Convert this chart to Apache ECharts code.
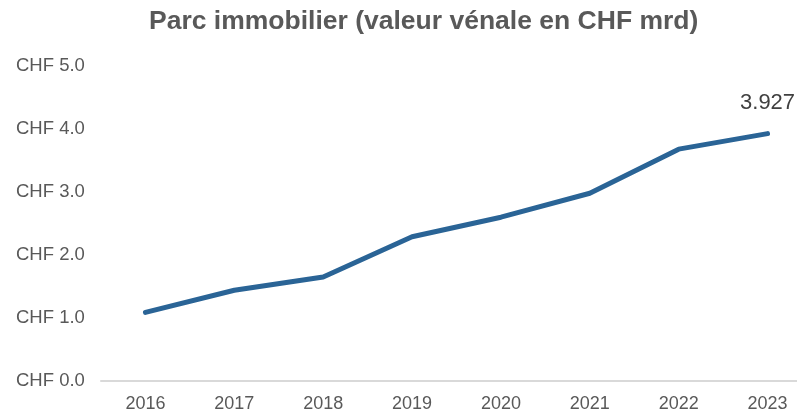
<!DOCTYPE html>
<html>
<head>
<meta charset="utf-8">
<script src="https://cdn.jsdelivr.net/npm/echarts@6/dist/echarts.min.js"></script>
<style>
  html, body { margin: 0; padding: 0; background: #fff; }
  #chart { width: 797px; height: 416px; }
</style>
</head>
<body>
<div id="chart"></div>
<script>
// valeurs (CHF mrd)
const years = ['2016', '2017', '2018', '2019', '2020', '2021', '2022', '2023'];
const values = [1.09, 1.44, 1.65, 2.29, 2.60, 2.98, 3.68, 3.927];
const yTicks = [0, 1, 2, 3, 4, 5];

const chart = echarts.init(document.getElementById('chart'));
chart.setOption({
  animation: false,
  textStyle: { fontFamily: '"Liberation Sans", Arial, sans-serif' },
  title: {
    text: 'Parc immobilier (valeur vénale en CHF mrd)',
    left: 144,
    top: 3,
    textStyle: { fontSize: 26.5, fontWeight: 'bold', color: '#595959' }
  },
  // l'axe dépasse le bord droit comme dans l'original
  grid: { left: 101, width: 711, top: 66, bottom: 35, outerBoundsMode: 'none' },
  xAxis: {
    type: 'category',
    data: years,
    axisLine: { lineStyle: { color: '#d9d9d9', width: 2 } },
    axisTick: { show: false },
    axisLabel: { color: '#595959', fontSize: 18, margin: 14 }
  },
  yAxis: {
    type: 'value',
    min: yTicks[0],
    max: yTicks[yTicks.length - 1],
    interval: 1,
    splitLine: { show: false },
    axisLine: { show: false },
    axisTick: { show: false },
    axisLabel: {
      color: '#595959',
      fontSize: 18.5,
      align: 'left',
      margin: 85,
      formatter: v => 'CHF ' + v.toFixed(1)
    }
  },
  series: [{
    type: 'line',
    data: values.map((v, i) => ({
      value: v,
      label: {
        show: i === values.length - 1,
        position: 'top',
        distance: 20,
        fontSize: 22,
        color: '#404040',
        formatter: p => p.value.toFixed(3)
      }
    })),
    symbol: 'circle',
    symbolSize: 0,
    showSymbol: true,
    lineStyle: { color: '#2a6496', width: 5, cap: 'round', join: 'round' }
  }]
});
</script>
</body>
</html>
